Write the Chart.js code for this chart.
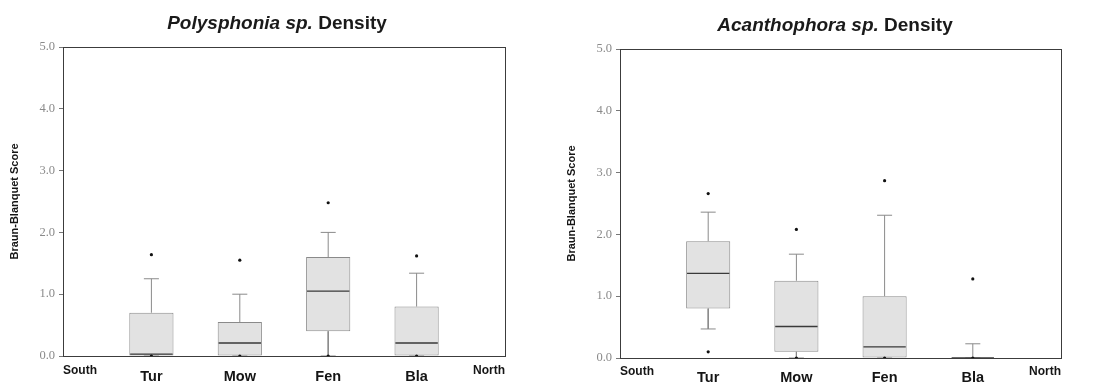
<!DOCTYPE html>
<html>
<head>
<meta charset="utf-8">
<script src="https://cdn.jsdelivr.net/npm/chart.js@4/dist/chart.umd.min.js"></script>
<style>
  html, body { margin: 0; padding: 0; background: #ffffff; }
  #wrap { position: relative; width: 1098px; height: 387px; overflow: hidden; background: #fff; }
  canvas { position: absolute; top: 0; }
  .title { position: absolute; font-family: "Liberation Sans", Arial, sans-serif; font-weight: bold; font-size: 19px; color: #1a1a1a; white-space: nowrap; transform: translateX(-50%); }
</style>
</head>
<body>
<div id="wrap">
  <canvas id="c1" width="549" height="387" style="left:0px"></canvas>
  <canvas id="c2" width="549" height="387" style="left:549px"></canvas>
  <div class="title" style="left:277px; top:12px;"><i>Polysphonia sp.</i> Density</div>
  <div class="title" style="left:835px; top:14px;"><i>Acanthophora sp.</i> Density</div>
</div>
<script>
// ---- data ----
const categories = ['Tur', 'Mow', 'Fen', 'Bla'];
const xLabels = ['South', 'Tur', 'Mow', 'Fen', 'Bla', 'North'];
const yTickValues = [0, 1, 2, 3, 4, 5];
const yAxisTitle = 'Braun-Blanquet Score';

// Polysphonia sp. density
const polyQ1 = [0.00, 0.00, 0.40, 0.00];
const polyQ3 = [0.70, 0.55, 1.60, 0.80];
const polyMedian = [0.03, 0.21, 1.05, 0.21];
const polyWhiskerLow = [0.00, 0.00, 0.00, 0.00];
const polyWhiskerHigh = [1.25, 1.00, 2.00, 1.34];
const polyOutlierHigh = [1.64, 1.55, 2.48, 1.62];
const polyOutlierLow = [0.00, 0.00, 0.00, 0.00];

// Acanthophora sp. density
const acanQ1 = [0.80, 0.10, 0.00, 0.00];
const acanQ3 = [1.89, 1.25, 1.00, 0.00];
const acanMedian = [1.37, 0.51, 0.18, 0.00];
const acanWhiskerLow = [0.47, 0.00, 0.00, 0.00];
const acanWhiskerHigh = [2.36, 1.68, 2.31, 0.23];
const acanOutlierHigh = [2.66, 2.08, 2.87, 1.28];
const acanOutlierLow = [0.10, 0.00, 0.00, 0.00];

// ---- build ----
function buildDatasets(q1, q3, med, wLo, wHi, oHi, oLo) {
  const halfBox = 0.24, halfCap = 0.085;
  const boxes = categories.map((c, i) => ({ x: i + 1, y: [q1[i], q3[i]] }));
  const whiskers = [];
  const medians = [];
  const points = [];
  categories.forEach((c, i) => {
    const x = i + 1;
    whiskers.push({ x: x, y: q3[i] }, { x: x, y: wHi[i] }, { x: x, y: null });
    whiskers.push({ x: x - halfCap, y: wHi[i] }, { x: x + halfCap, y: wHi[i] }, { x: x, y: null });
    whiskers.push({ x: x, y: q1[i] }, { x: x, y: wLo[i] }, { x: x, y: null });
    whiskers.push({ x: x - halfCap, y: wLo[i] }, { x: x + halfCap, y: wLo[i] }, { x: x, y: null });
    medians.push({ x: x - halfBox, y: med[i] }, { x: x + halfBox, y: med[i] }, { x: x, y: null });
    points.push({ x: x, y: oHi[i] }, { x: x, y: oLo[i] });
  });
  return [
    { type: 'bar', data: boxes, backgroundColor: '#e2e2e2', borderColor: '#8a8a8a', borderWidth: 1,
      borderSkipped: false, barPercentage: 0.5, categoryPercentage: 1, order: 4 },
    { type: 'line', data: whiskers, borderColor: '#8a8a8a', borderWidth: 1, pointRadius: 0,
      spanGaps: false, tension: 0, fill: false, order: 3 },
    { type: 'line', data: medians, borderColor: '#3a3a3a', borderWidth: 1.3, pointRadius: 0,
      spanGaps: false, tension: 0, fill: false, order: 2 },
    { type: 'scatter', data: points, backgroundColor: '#111', borderColor: '#111', pointRadius: 1.6,
      borderWidth: 0, order: 1 }
  ];
}

function makeChart(id, datasets, pad) {
  const axisColor = '#3c3c3c';
  return new Chart(document.getElementById(id), {
    data: { datasets: datasets },
    options: {
      responsive: false,
      animation: false,
      devicePixelRatio: 1,
      layout: { padding: { left: pad.left, right: pad.right, top: pad.top, bottom: 0 } },
      plugins: { legend: { display: false }, tooltip: { enabled: false }, title: { display: false } },
      scales: {
        x: {
          type: 'linear', position: 'bottom', min: 0, max: 5, offset: false,
          afterBuildTicks: (s) => { s.ticks = xLabels.map((l, i) => ({ value: i })); },
          afterFit: (s) => { s.height = pad.xHeight; },
          grid: { display: false, offset: false, drawTicks: false },
          border: { display: true, color: axisColor, width: 1 },
          ticks: {
            autoSkip: false, maxRotation: 0, minRotation: 0, align: 'inner', padding: pad.xPad,
            color: '#151515',
            callback: (v) => xLabels[v],
            font: (ctx) => (ctx.index === 0 || ctx.index === xLabels.length - 1)
              ? { family: 'Liberation Sans', size: 12, weight: 'bold', lineHeight: 0.4 }
              : { family: 'Liberation Sans', size: 14.5, weight: 'bold', lineHeight: 1.2 }
          }
        },
        xTop: {
          type: 'linear', position: 'top', min: 0, max: 5, offset: false,
          afterFit: (s) => { s.height = 0; },
          grid: { display: false }, ticks: { display: false },
          border: { display: true, color: axisColor, width: 1 }
        },
        y: {
          type: 'linear', position: 'left', min: 0, max: 5,
          afterBuildTicks: (s) => { s.ticks = yTickValues.map(v => ({ value: v })); },
          afterFit: (s) => { s.width = pad.yWidth; },
          grid: { display: true, drawOnChartArea: false, drawTicks: true, tickLength: 4, color: '#777' },
          border: { display: true, color: axisColor, width: 1 },
          ticks: {
            padding: 4, color: '#8a8a8a',
            font: { family: 'Liberation Serif', size: 12.5 },
            callback: (v) => Number(v).toFixed(1)
          },
          title: {
            display: true, text: yAxisTitle, color: '#151515',
            font: { family: 'Liberation Sans', size: 11, weight: 'bold' },
            padding: { top: 4, bottom: 2 }
          }
        },
        yRight: {
          type: 'linear', position: 'right', min: 0, max: 5,
          afterFit: (s) => { s.width = 0; },
          grid: { display: false }, ticks: { display: false },
          border: { display: true, color: axisColor, width: 1 }
        }
      }
    }
  });
}

makeChart('c1', buildDatasets(polyQ1, polyQ3, polyMedian, polyWhiskerLow, polyWhiskerHigh, polyOutlierHigh, polyOutlierLow),
  { left: 4, yWidth: 59, right: 44, top: 47, xHeight: 31, xPad: 12 });
makeChart('c2', buildDatasets(acanQ1, acanQ3, acanMedian, acanWhiskerLow, acanWhiskerHigh, acanOutlierHigh, acanOutlierLow),
  { left: 12, yWidth: 59, right: 37, top: 49, xHeight: 29, xPad: 11 });
</script>
</body>
</html>
